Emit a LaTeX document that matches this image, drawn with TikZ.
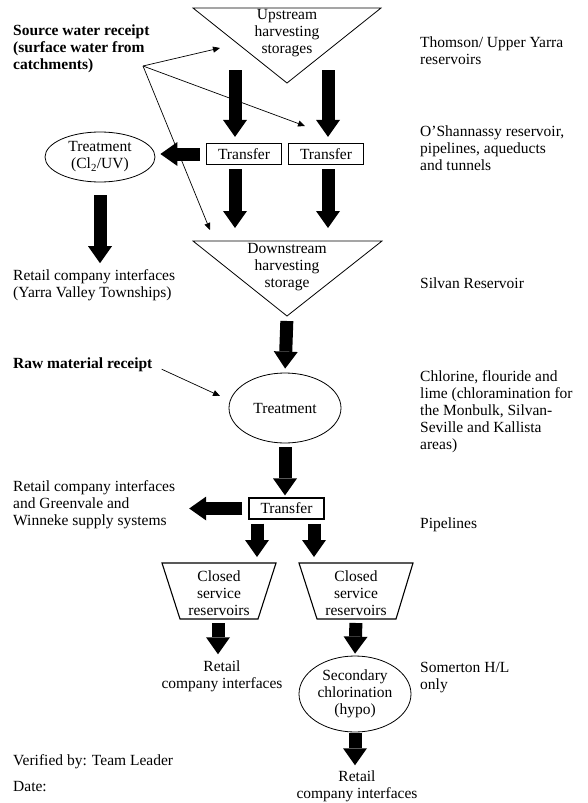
\documentclass[tikz,border=0pt]{standalone}
\usepackage{fontspec}
\setmainfont{Liberation Serif}
\usetikzlibrary{arrows.meta,shapes.geometric}

\tikzset{
  txt/.style={inner sep=0pt, font=\fontsize{15.5}{17}\selectfont},
  lbl/.style={txt, anchor=west, align=left},
  box/.style={txt, draw, line width=1.2pt, minimum width=75pt, minimum height=21pt},
  blob/.style={txt, draw, ellipse, line width=0.8pt, align=center},
  tank/.style={line width=0.8pt, line join=miter},
  fat/.style={line width=13pt, -{Triangle[width=24pt,length=17pt,line width=0pt]}},
  thin/.style={line width=0.7pt, -{Triangle[width=6pt,length=7pt]}},
}

\begin{document}
\begin{tikzpicture}[x=1pt,y=-1pt]
\useasboundingbox (0,0) rectangle (588,803);

% harvesting storages
\coordinate (upA) at (193,8);
\coordinate (upB) at (381,8);
\coordinate (upC) at (287,83);
\draw[tank] (upA) -- (upB) -- (upC) -- cycle;
\node[txt, align=center] (up) at (287,33) {Upstream\\harvesting\\storages};

\coordinate (dnA) at (193,241);
\coordinate (dnB) at (382,241);
\coordinate (dnC) at (287,316);
\draw[tank] (dnA) -- (dnB) -- (dnC) -- cycle;
\node[txt, align=center] (dn) at (287,267) {Downstream\\harvesting\\storage};

% transfers and treatment
\node[box] (tr1) at (244,154) {Transfer};
\node[box] (tr2) at (326,154) {Transfer};
\node[blob, minimum width=110pt, minimum height=50pt] (trt1) at (100,157) {Treatment\\(Cl\textsubscript{2}/UV)};
\node[blob, minimum width=112pt, minimum height=70pt] (trt2) at (285,408) {Treatment};
\node[box] (tr3) at (286.5,508.5) {Transfer};

% closed service reservoirs
\coordinate (csA) at (162,563);
\coordinate (csB) at (276,563);
\draw[tank, line width=1.1pt] (csA) -- (csB) -- (258,619) -- (180,619) -- cycle;
\node[txt, align=center] (csr1) at (219,593) {Closed\\service\\reservoirs};
\coordinate (csC) at (299,563);
\coordinate (csD) at (413,563);
\draw[tank, line width=1.1pt] (csC) -- (csD) -- (396,619) -- (317,619) -- cycle;
\node[txt, align=center] (csr2) at (356,593) {Closed\\service\\reservoirs};
\coordinate (csr1B) at (218,619);
\coordinate (csr2B) at (356,619);

\node[blob, minimum width=112pt, minimum height=76pt] (sec) at (355,694) {Secondary\\chlorination\\(hypo)};

% left column
\node[lbl, font=\fontsize{15.5}{17}\selectfont\bfseries] (src) at (13,49) {Source water receipt\\(surface water from\\catchments)};
\node[lbl] (retail1) at (13,285) {Retail company interfaces\\(Yarra Valley Townships)};
\node[lbl, font=\fontsize{15.5}{17}\selectfont\bfseries] (raw) at (13,365) {Raw material receipt};
\node[lbl] (retail2) at (13,505) {Retail company interfaces\\and Greenvale and\\Winneke supply systems};
\node[txt, align=center] (retail3) at (222,676) {Retail\\company interfaces};
\node[txt, align=center] (retail4) at (357,786) {Retail\\company interfaces};
\node[lbl] (verified) at (13,762) {Verified by: Team Leader};
\node[lbl] (date) at (13,787) {Date:};

% right column
\node[lbl] (thomson) at (420,51) {Thomson/ Upper Yarra\\reservoirs};
\node[lbl] (oshan) at (420,148) {O'Shannassy reservoir,\\pipelines, aqueducts\\and tunnels};
\node[lbl] (silvan) at (420,283) {Silvan Reservoir};
\node[lbl] (chlor) at (420,412) {Chlorine, flouride and\\lime (chloramination for\\the Monbulk, Silvan-\\Seville and Kallista\\areas)};
\node[lbl] (pipes) at (420,525) {Pipelines};
\node[lbl] (somer) at (420,678) {Somerton H/L\\only};

% flows
\coordinate (upL) at (235,70);
\coordinate (upR) at (328,70);
\draw[fat, shorten >=6pt] (upL) -- (upL |- tr1.north);
\draw[fat, shorten >=6pt] (upR) -- (upR |- tr2.north);
\draw[fat, shorten <=4pt, shorten >=13pt] (upL |- tr1.south) -- (upL |- dnA);
\draw[fat, shorten <=4pt, shorten >=13pt] (upR |- tr2.south) -- (upR |- dnA);
\draw[fat, shorten <=6pt, shorten >=5pt] (tr1.west) -- (tr1.west -| trt1.east);
\draw[fat, shorten <=13pt, shorten >=6pt] (trt1.south) -- (trt1.south |- retail1.north);
\draw[fat, shorten <=5pt, shorten >=4pt] (dnC) -- (trt2.north);
\draw[fat, shorten <=4pt, shorten >=2pt] (trt2.south) -- (trt2.south |- tr3.north);
\draw[fat, shorten <=6pt, shorten >=14pt] (tr3.west) -- (tr3.west -| retail2.east);
\draw[fat, shorten <=4pt, shorten >=6pt] ([xshift=-29.5pt]tr3.south) -- ([xshift=-29.5pt]tr3.south |- csA);
\draw[fat, shorten <=4pt, shorten >=6pt] ([xshift=27.5pt]tr3.south) -- ([xshift=27.5pt]tr3.south |- csC);
\draw[fat, shorten <=4pt, shorten >=6pt] (csr1B) -- (csr1B |- retail3.north);
\draw[fat, shorten <=4pt, shorten >=2pt] (csr2B) -- (sec.north);
\draw[fat, shorten <=1pt, shorten >=5pt] (sec.south) -- (sec.south |- retail4.north);

% receipts
\coordinate (srcO) at (143,66);
\coordinate (srcT1) at (220,48);
\coordinate (srcT2) at (305,126);
\coordinate (srcT3) at (210,230);
\draw[thin] (srcO) -- (srcT1);
\draw[thin] (srcO) -- (srcT2);
\draw[thin] (srcO) -- (srcT3);
\coordinate (rawT) at (220,396);
\draw[thin, shorten <=10pt] (raw.east) -- (rawT);
\end{tikzpicture}
\end{document}
